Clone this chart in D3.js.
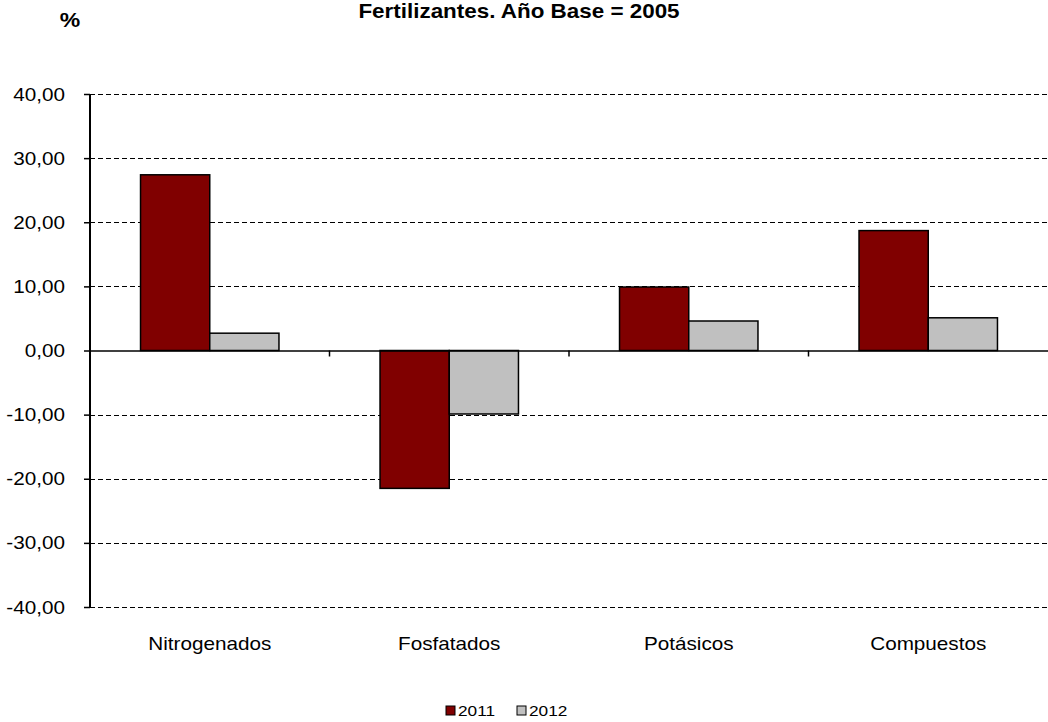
<!DOCTYPE html>
<html>
<head>
<meta charset="utf-8">
<script src="https://cdn.jsdelivr.net/npm/d3@7"></script>
<style>
  body { margin: 0; background: #fff; }
  svg { display: block; font-family: "Liberation Sans", Arial, sans-serif; }
</style>
</head>
<body>
<div id="chart"></div>
<script>
const categories = ["Nitrogenados", "Fosfatados", "Potásicos", "Compuestos"];
const seriesNames = ["2011", "2012"];
const values2011 = [27.4, -21.5, 9.9, 18.7];
const values2012 = [2.7, -9.9, 4.6, 5.1];
const yTicks = [-40, -30, -20, -10, 0, 10, 20, 30, 40];
const colors = ["#800000", "#c0c0c0"];

const width = 1048, height = 722;
const margin = {top: 94, right: 0, bottom: 115, left: 90};
// the original picture is a little wider than tall, text included
const stretch = 1.15;

const svg = d3.select("#chart").append("svg")
    .attr("width", width)
    .attr("height", height);

// text helper: places a horizontally stretched label
function label(g, x, y, txt, size, anchor, bold) {
    return g.append("text")
        .attr("transform", "translate(" + x + "," + y + ") scale(" + stretch + ",1)")
        .attr("text-anchor", anchor)
        .attr("font-size", size)
        .attr("font-weight", bold ? "bold" : null)
        .attr("fill", "#000")
        .text(txt);
}

const x = d3.scaleBand()
    .domain(categories)
    .range([margin.left, width - margin.right]);

const xInner = d3.scaleBand()
    .domain(seriesNames)
    .range([0, x.bandwidth()])
    .paddingOuter(0.73);

const y = d3.scaleLinear()
    .domain([-40, 40])
    .range([height - margin.bottom, margin.top]);

// dashed gridlines
svg.append("g")
    .selectAll("line")
    .data(yTicks.filter(d => d !== 0))
    .join("line")
    .attr("x1", margin.left)
    .attr("x2", width - margin.right)
    .attr("y1", d => Math.round(y(d)) + 0.5)
    .attr("y2", d => Math.round(y(d)) + 0.5)
    .attr("stroke", "#000")
    .attr("stroke-width", 1)
    .attr("stroke-dasharray", "5,3");

// bars
const data = categories.map((c, i) => ({cat: c, vals: [values2011[i], values2012[i]]}));
const groups = svg.append("g")
    .selectAll("g")
    .data(data)
    .join("g")
    .attr("transform", d => "translate(" + x(d.cat) + ",0)");

groups.selectAll("rect")
    .data(d => d.vals.map((v, j) => ({key: seriesNames[j], v: v, j: j})))
    .join("rect")
    .attr("x", d => xInner(d.key))
    .attr("width", xInner.bandwidth())
    .attr("y", d => y(Math.max(0, d.v)))
    .attr("height", d => Math.abs(y(d.v) - y(0)))
    .attr("fill", d => colors[d.j])
    .attr("stroke", "#000")
    .attr("stroke-width", 1.5);

// y axis
const yAxis = svg.append("g")
    .attr("transform", "translate(" + margin.left + ",0)")
    .call(d3.axisLeft(y)
        .tickValues(yTicks)
        .tickSize(6)
        .tickFormat(""));
yAxis.select(".domain").attr("stroke", "#000").attr("stroke-width", 2).attr("d",
    "M0," + y(40) + "V" + y(-40));
yAxis.selectAll(".tick line").attr("stroke", "#000").attr("stroke-width", 1.5);

const fmt = d => d3.format(".2f")(d).replace(".", ",").replace("−", "-");
const yLabels = svg.append("g");
yTicks.forEach(t => label(yLabels, 65, y(t) + 6.5, fmt(t), 18, "end"));

// x axis at zero
const xAxis = svg.append("g")
    .attr("transform", "translate(0," + y(0) + ")")
    .call(d3.axisBottom(x).tickSize(0).tickFormat(""));
xAxis.select(".domain").attr("stroke", "#000").attr("stroke-width", 1.5);
xAxis.selectAll(".tick").remove();

// category separators under the zero line
svg.append("g")
    .selectAll("line")
    .data(categories.slice(1))
    .join("line")
    .attr("x1", d => x(d))
    .attr("x2", d => x(d))
    .attr("y1", y(0))
    .attr("y2", y(0) + 6)
    .attr("stroke", "#000")
    .attr("stroke-width", 1.5);

// category labels
const catLabels = svg.append("g");
categories.forEach(c => label(catLabels, x(c) + x.bandwidth() / 2, 650, c, 18, "middle"));

// title
label(svg, 519, 18, "Fertilizantes. Año Base = 2005", 19.5, "middle", true);
label(svg, 70, 27, "%", 20, "middle", true);

// legend
const legend = svg.append("g")
    .selectAll("g")
    .data(seriesNames)
    .join("g")
    .attr("transform", (d, i) => "translate(" + (446 + i * 71) + ",706)");
legend.append("rect")
    .attr("width", 9)
    .attr("height", 9)
    .attr("fill", (d, i) => colors[i])
    .attr("stroke", "#000")
    .attr("stroke-width", 1);
legend.each(function(d) {
    label(d3.select(this), 12, 10, d, 15, "start");
});
</script>
</body>
</html>
